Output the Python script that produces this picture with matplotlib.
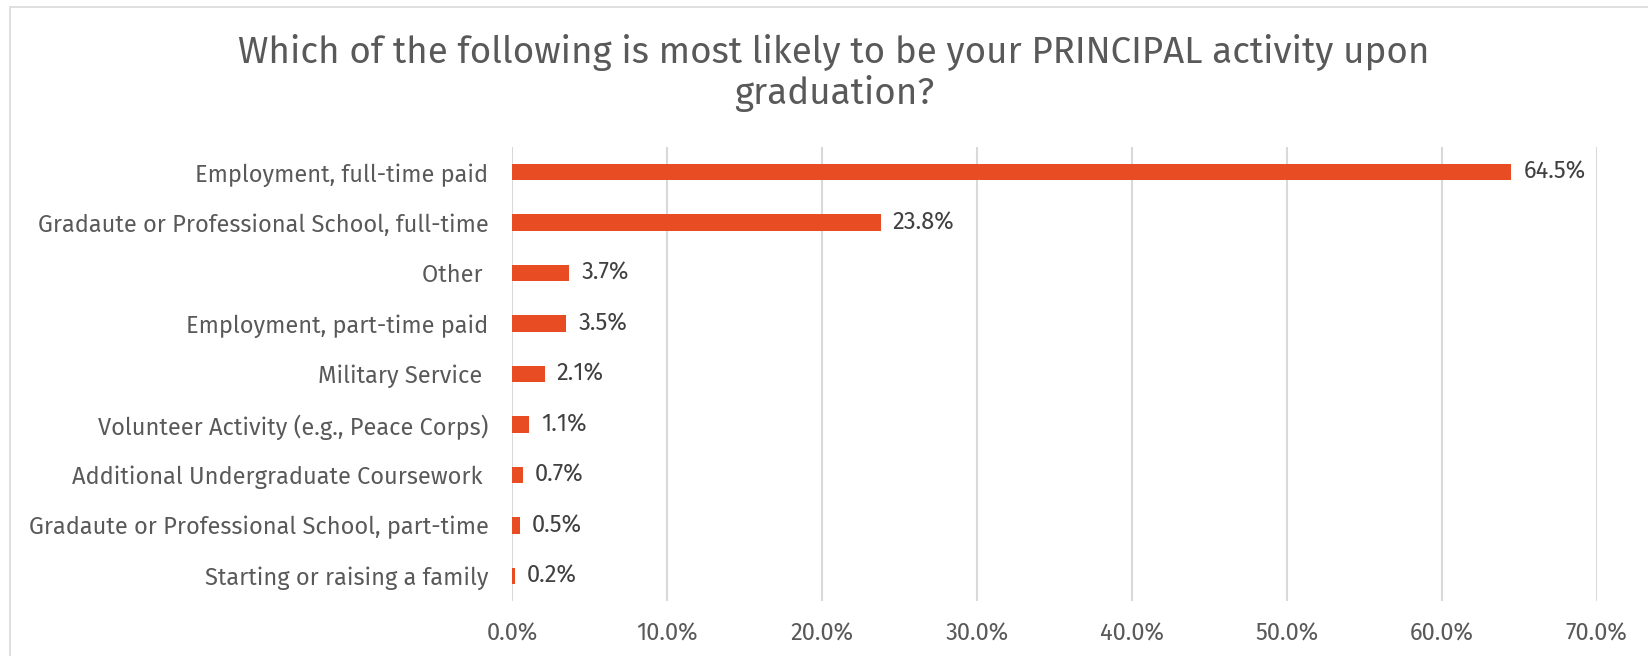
import matplotlib
matplotlib.use("Agg")
import matplotlib.pyplot as plt
from matplotlib.patches import Rectangle
from matplotlib.ticker import FuncFormatter, MultipleLocator

categories = [
    "Employment, full-time paid",
    "Gradaute or Professional School, full-time",
    "Other ",
    "Employment, part-time paid",
    "Military Service ",
    "Volunteer Activity (e.g., Peace Corps)",
    "Additional Undergraduate Coursework ",
    "Gradaute or Professional School, part-time",
    "Starting or raising a family",
]
values = [64.5, 23.8, 3.7, 3.5, 2.1, 1.1, 0.7, 0.5, 0.2]
title_lines = ["Which of the following is most likely to be your PRINCIPAL activity upon",
               "graduation?"]

W, H = 1648, 656
fig = plt.figure(figsize=(W / 100, H / 100), dpi=100)
fig.patch.set_facecolor("white")
fig.patches.append(Rectangle((10 / W, -0.1), 2, 1.1 - 7 / H, transform=fig.transFigure,
                             fill=False, edgecolor="#D9D9D9", linewidth=1.2))

font = ["Fira Sans", "DejaVu Sans"]
wt = "normal"
ax = fig.add_axes([512 / W, 1 - 601 / H, (1596.5 - 512) / W, (601 - 147) / H])
y = list(range(len(categories)))
ax.barh(y, values, height=0.325, color="#E84C22", zorder=3)
ax.set_ylim(len(categories) - 0.5, -0.5)
ax.set_xlim(0, 70)
ax.xaxis.set_major_locator(MultipleLocator(10))
ax.xaxis.set_major_formatter(FuncFormatter(lambda v, p: f"{v:.1f}%"))
ax.set_yticks(y)
ax.set_yticklabels(categories, family=font, fontsize=17, color="#595959", weight=wt)
for lab in ax.get_xticklabels():
    lab.set_family(font)
    lab.set_fontsize(17)
    lab.set_color("#595959")
    lab.set_weight(wt)
ax.tick_params(axis="both", length=0)
ax.tick_params(axis="y", pad=17)
ax.tick_params(axis="x", pad=15)
ax.grid(axis="x", color="#D9D9D9", linewidth=1.5, zorder=0)
for s in ax.spines.values():
    s.set_visible(False)

for yi, v in zip(y, values):
    ax.annotate(f"{v:.1f}%", (v, yi), xytext=(12, 0), textcoords="offset pixels",
                va="center", ha="left", family=font, fontsize=17, color="#404040", weight=wt)

for line, base in zip(title_lines, [62.7, 104]):
    fig.text(834 / W, 1 - base / H, line, ha="center", va="baseline", family=font,
             fontsize=26.5, color="#595959", weight=wt)

fig.savefig("out.png", dpi=100)
